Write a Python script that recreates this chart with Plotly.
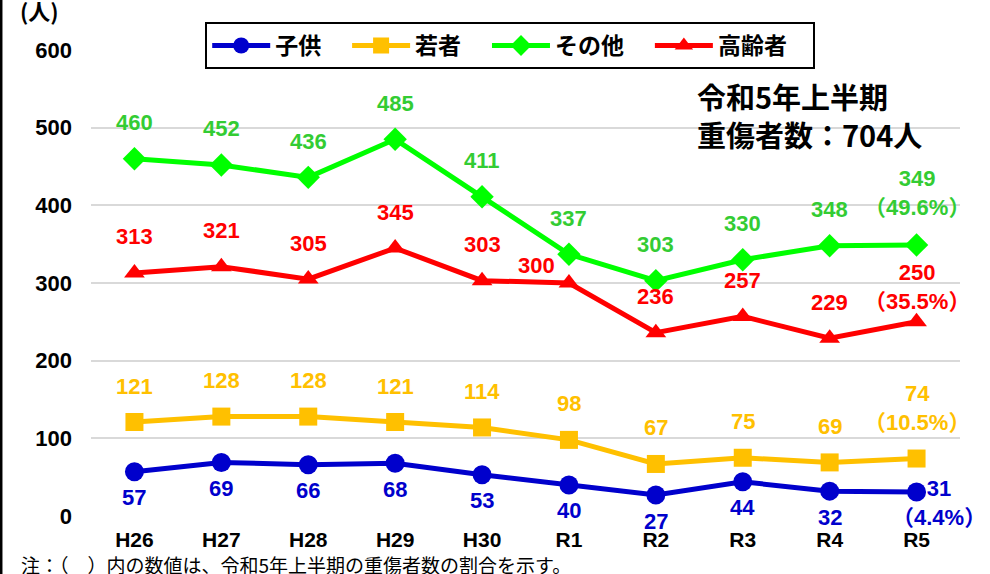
import plotly.graph_objects as go

years = ["H26", "H27", "H28", "H29", "H30", "R1", "R2", "R3", "R4", "R5"]
children = [57, 69, 66, 68, 53, 40, 27, 44, 32, 31]
young = [121, 128, 128, 121, 114, 98, 67, 75, 69, 74]
others = [460, 452, 436, 485, 411, 337, 303, 330, 348, 349]
elderly = [313, 321, 305, 345, 303, 300, 236, 257, 229, 250]

LABEL_FONT = "Liberation Sans, Arial, Noto Sans CJK JP"
JP_FONT = "Noto Sans CJK JP, Liberation Sans"

# name, values, line color, label color, marker symbol, marker size, default label shift
series = [
    ("子供", children, "#0000CC", "#0000CC", "circle", 19, -26),
    ("若者", young, "#FFC000", "#FFC000", "square", 18, 36),
    ("その他", others, "#00FF00", "#33CC33", "diamond", 18, 36),
    ("高齢者", elderly, "#FF0000", "#FF0000", "triangle-up", 18, 36),
]

# special label placements (series, index) -> (xshift, yshift)
special = {
    ("高齢者", 5): (-32, 18),
    ("子供", 9): (22, -11),
    ("若者", 9): (0, 51),
    ("その他", 9): (0, 52),
    ("高齢者", 9): (0, 35),
}

total_last = sum(v[-1] for _, v, *_ in series)

fig = go.Figure()
annotations = []
for name, vals, lc, tc, sym, msize, dy in series:
    fig.add_trace(go.Scatter(
        x=years, y=vals, name=name + "\u00a0" * 4, mode="lines+markers",
        line=dict(color=lc, width=5),
        marker=dict(symbol=sym, size=msize, color=lc, line=dict(width=0)),
        hoverinfo="skip",
    ))
    for i, (yr, v) in enumerate(zip(years, vals)):
        text = str(v)
        if i == len(vals) - 1:
            text = f"{v}<br>（{v / total_last * 100:.1f}%）"
        xs, ys = special.get((name, i), (0, dy))
        annotations.append(dict(
            x=yr, y=v, text=text, showarrow=False, xshift=xs, yshift=ys,
            font=dict(family=LABEL_FONT, size=22, color=tc, weight="bold"),
            xanchor="center", yanchor="middle",
        ))

annotations += [
    dict(xref="paper", yref="paper", x=-0.0593, y=1.086, text="(人)", showarrow=False,
         font=dict(family=JP_FONT, size=22, color="black", weight="bold"),
         xanchor="center", yanchor="middle"),
    dict(xref="paper", yref="paper", x=0.695, y=0.8605, showarrow=False,
         text="令和5年上半期<br>重傷者数：704人", align="left",
         font=dict(family=JP_FONT, size=29, color="black", weight="bold"),
         xanchor="left", yanchor="middle"),
    dict(xref="paper", yref="paper", x=-0.0823, y=-0.104, showarrow=False,
         text="注：（　）内の数値は、令和5年上半期の重傷者数の割合を示す。",
         font=dict(family=JP_FONT, size=19, color="black"),
         xanchor="left", yanchor="middle"),
]

fig.update_layout(
    width=990, height=574,
    margin=dict(l=91, r=30, t=50, b=58, autoexpand=False),
    paper_bgcolor="white", plot_bgcolor="white",
    annotations=annotations,
    showlegend=True,
    legend=dict(
        orientation="h", x=0.4824, xanchor="center", y=1.06, yanchor="top",
        bordercolor="black", borderwidth=2, bgcolor="white",
        itemwidth=58,
        font=dict(family=JP_FONT, size=23, color="black", weight="bold"),
    ),
    shapes=[dict(type="line", xref="paper", yref="paper",
                 x0=-0.1036, x1=-0.1036, y0=-0.125, y1=1.11,
                 line=dict(color="black", width=3))],
)
fig.update_xaxes(
    range=[-0.5, len(years) - 0.5],
    showgrid=False, showline=False, zeroline=False,
    ticklabelstandoff=9,
    tickfont=dict(family=LABEL_FONT, size=21, color="black", weight="bold"),
)
fig.update_yaxes(
    range=[0, 600], dtick=100, showline=False, zeroline=False,
    gridcolor="#D9D9D9", gridwidth=2,
    ticklabelstandoff=18,
    tickfont=dict(family=LABEL_FONT, size=22, color="black", weight="bold"),
)

fig.write_html("out.html", config={"displayModeBar": False},
               post_script="document.body.style.margin='0';")
